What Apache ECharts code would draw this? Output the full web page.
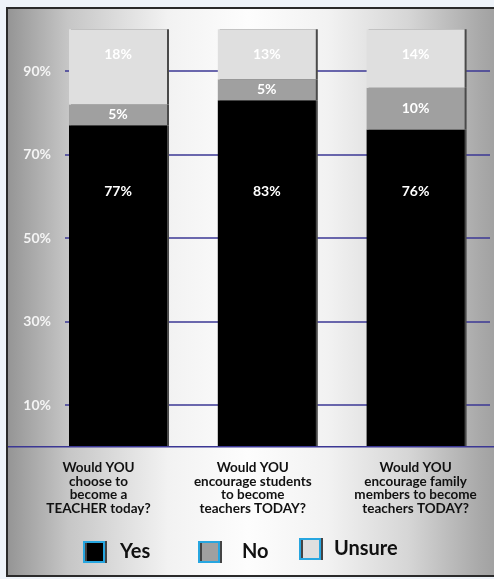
<!DOCTYPE html>
<html>
<head>
<meta charset="utf-8">
<script src="https://cdn.jsdelivr.net/npm/echarts@6/dist/echarts.min.js"></script>
<style>
  html, body { margin: 0; padding: 0; background: #eef3f9; width: 494px; height: 579px; overflow: hidden; }
  #frame {
    position: absolute; left: 6px; top: 7px; width: 500px; height: 566px;
    border: 2px solid #2a2a2a;
    background: linear-gradient(to right, #959595 0%, #c6c6c6 12%, #f2f2f2 32%, #fdfdfd 48%, #f2f2f2 64%, #d6d6d6 80%, #aaaaaa 94%, #9a9a9a 100%);
  }
  #chart { position: absolute; left: 0; top: 0; width: 494px; height: 579px; }
</style>
</head>
<body>
<div id="frame"></div>
<div id="chart"></div>
<script>
const categories = [
  'Would YOU\nchoose to\nbecome a\nTEACHER today?',
  'Would YOU\nencourage students\nto become\nteachers TODAY?',
  'Would YOU\nencourage family\nmembers to become\nteachers TODAY?'
];
const categoryShift = [39, 28, 0];
const yesValues = [77, 83, 76];
const noValues = [5, 5, 10];
const unsureValues = [18, 13, 14];
const yTicks = [10, 30, 50, 70, 90];
const seriesNames = ['Yes', 'No', 'Unsure'];
const seriesColors = ['#000000', '#a0a0a0', '#dfdfdf'];

const FONT = 'Lato, "Open Sans", sans-serif';
const GRID_COLOR = '#3b3794';

const chart = echarts.init(document.getElementById('chart'), null, { renderer: 'canvas' });

const barShadow = { shadowColor: '#4a4a4a', shadowOffsetX: 2, shadowOffsetY: 0, shadowBlur: 0 };
const valueLabel = {
  show: true, color: '#ffffff', fontFamily: FONT, fontWeight: 'bold', fontSize: 14,
  formatter: p => p.value + '%'
};

function legendFor(i, left, top, gap) {
  return {
    data: [seriesNames[i]], left: left, top: top, orient: 'horizontal', padding: 0,
    icon: 'rect', itemWidth: 20, itemHeight: 20, selectedMode: false,
    itemStyle: { borderColor: '#27a6e0', borderWidth: 2, shadowColor: '#444', shadowOffsetX: 2, shadowOffsetY: 0, shadowBlur: 0 },
    textStyle: { color: '#111', fontFamily: FONT, fontWeight: 'bold', fontSize: 20, padding: [0, 0, 0, gap] }
  };
}

const option = {
  animation: false,
  backgroundColor: 'transparent',
  grid: { left: 43.6, right: 4, top: 29.25, bottom: 132.25, containLabel: false },
  xAxis: {
    type: 'category',
    data: categories.map((c, i) => ({ value: c, textStyle: { padding: [0, categoryShift[i], 0, 0] } })),
    axisLine: { show: false },
    axisTick: { show: false },
    axisLabel: {
      interval: 0, margin: 14, color: '#111', fontFamily: FONT, fontWeight: 'bold',
      fontSize: 13.5, lineHeight: 13.7, align: 'center'
    }
  },
  yAxis: {
    type: 'value', min: 0, max: 100, interval: 10,
    axisLine: { show: false }, axisTick: { show: false }, splitLine: { show: false },
    axisLabel: {
      margin: -7.4, color: '#f4f4f4', fontFamily: FONT, fontWeight: 'bold', fontSize: 14,
      formatter: v => yTicks.indexOf(v) >= 0 ? v + '%' : ''
    }
  },
  legend: [
    legendFor(0, 83, 541, 11),
    legendFor(1, 198, 541, 18),
    legendFor(2, 299, 538, 9)
  ],
  series: [
    {
      name: seriesNames[0], type: 'bar', stack: 'all', barWidth: 98, z: 2,
      data: yesValues,
      itemStyle: Object.assign({ color: seriesColors[0] }, barShadow),
      label: Object.assign({}, valueLabel, { position: 'insideBottom', distance: 248 }),
      markLine: {
        silent: true, z: 1, symbol: ['none', 'none'], label: { show: false },
        lineStyle: { color: GRID_COLOR, width: 1.5, type: 'solid' },
        data: yTicks.map(v => ({ yAxis: v, x: 65 }))
      }
    },
    {
      name: seriesNames[1], type: 'bar', stack: 'all', barWidth: 98, z: 2,
      data: noValues,
      itemStyle: Object.assign({ color: seriesColors[1] }, barShadow),
      label: Object.assign({}, valueLabel, { position: 'inside' })
    },
    {
      name: seriesNames[2], type: 'bar', stack: 'all', barWidth: 98, z: 2,
      data: unsureValues,
      itemStyle: Object.assign({ color: seriesColors[2] }, barShadow),
      label: Object.assign({}, valueLabel, { position: 'insideTop', distance: 18 })
    }
  ]
};

chart.setOption(option);
const y0 = chart.convertToPixel({ yAxisIndex: 0 }, 0);
chart.setOption({
  graphic: [{
    type: 'line', z: 10, silent: true,
    shape: { x1: 8, y1: y0, x2: 494, y2: y0 },
    style: { stroke: GRID_COLOR, lineWidth: 1.5 }
  }]
});
</script>
</body>
</html>
